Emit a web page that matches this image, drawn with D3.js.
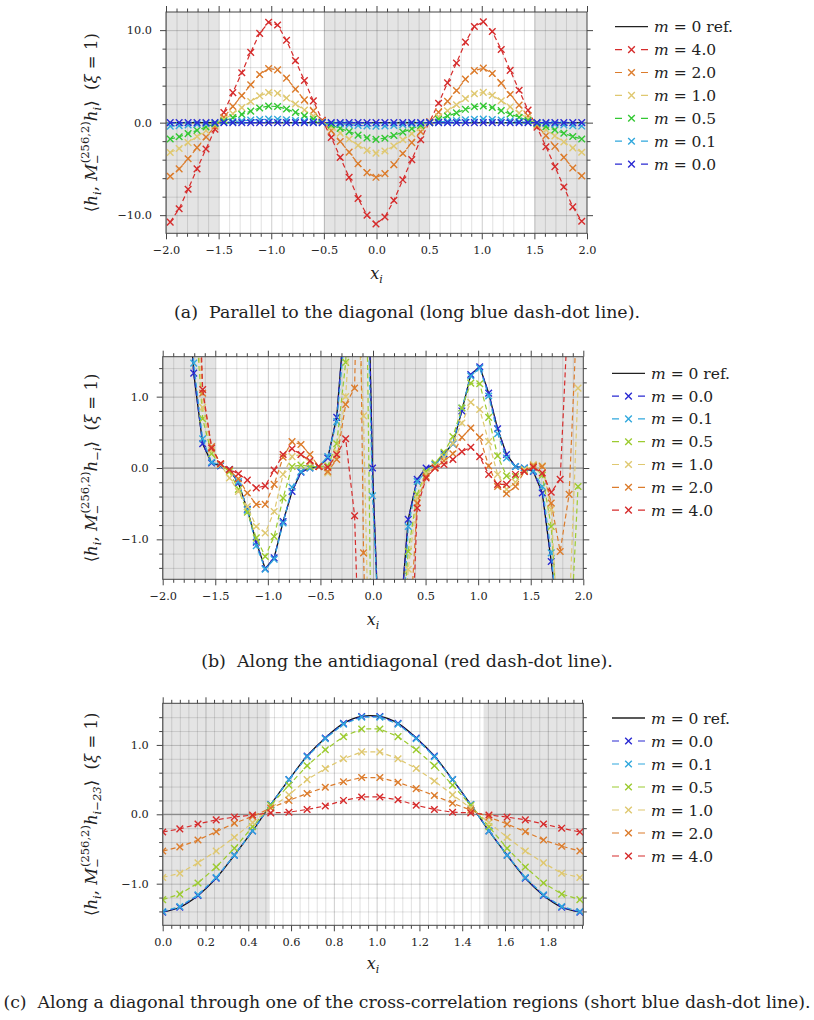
<!DOCTYPE html>
<html><head><meta charset="utf-8">
<script src="https://cdn.jsdelivr.net/npm/d3@7"></script>
<style>
body{margin:0;background:#fff}
svg text{font-family:"DejaVu Serif",serif;fill:#222}
</style>
</head><body>
<svg id="c" width="814" height="1020"></svg>
<script>
// ---------------- DATA ----------------
// shared sample grid (marker positions) for panels (a) and (b)
const xGrid = [-1.96,-1.875,-1.79,-1.705,-1.62,-1.535,-1.45,-1.365,-1.28,-1.195,-1.11,-1.025,-0.94,-0.855,-0.77,-0.685,-0.6,-0.515,-0.43,-0.345,-0.26,-0.175,-0.09,-0.005,0.08,0.165,0.25,0.335,0.42,0.505,0.59,0.675,0.76,0.845,0.93,1.015,1.1,1.185,1.27,1.355,1.44,1.525,1.61,1.695,1.78,1.865,1.95];

// panel (a)
const aRef = [0,0,0,0,0,0,0,0,0,0,0,0,0,0,0,0,0,0,0,0,0,0,0,0,0,0,0,0,0,0,0,0,0,0,0,0,0,0,0,0,0,0,0,0,0,0,0];
const aM40 = [-10.75,-9.3,-7.2,-5.0,-2.85,-0.72,1.1,3.25,5.4,7.6,9.65,10.85,10.55,8.9,6.7,4.55,2.35,0.25,-1.6,-3.75,-5.9,-8.2,-10.0,-10.95,-10.2,-8.4,-6.18,-4.0,-1.84,0.1,2.1,4.3,6.45,8.7,10.4,10.9,9.85,7.9,5.65,3.5,1.35,-0.5,-2.6,-4.75,-6.95,-9.1,-10.65];
const aM20 = [-5.8,-5.0,-3.9,-2.7,-1.55,-0.39,0.59,1.76,2.92,4.1,5.21,5.86,5.7,4.81,3.62,2.46,1.27,0.14,-0.86,-2.03,-3.19,-4.43,-5.4,-5.91,-5.51,-4.54,-3.34,-2.16,-0.99,0.05,1.13,2.32,3.48,4.7,5.62,5.89,5.32,4.27,3.05,1.89,0.73,-0.27,-1.4,-2.57,-3.75,-4.91,-5.75];
const aM10 = [-3.23,-2.79,-2.16,-1.5,-0.86,-0.22,0.33,0.98,1.62,2.28,2.9,3.26,3.17,2.67,2.01,1.37,0.71,0.08,-0.48,-1.13,-1.77,-2.46,-3.0,-3.29,-3.06,-2.52,-1.85,-1.2,-0.55,0.03,0.63,1.29,1.94,2.61,3.12,3.27,2.96,2.37,1.7,1.05,0.41,-0.15,-0.78,-1.43,-2.09,-2.73,-3.2];
const aM05 = [-1.77,-1.53,-1.19,-0.83,-0.47,-0.12,0.18,0.54,0.89,1.25,1.59,1.79,1.74,1.47,1.11,0.75,0.39,0.04,-0.26,-0.62,-0.97,-1.35,-1.65,-1.81,-1.68,-1.39,-1.02,-0.66,-0.3,0.02,0.35,0.71,1.06,1.44,1.72,1.8,1.63,1.3,0.93,0.58,0.22,-0.08,-0.43,-0.78,-1.15,-1.5,-1.76];
const aM01 = [-0.38,-0.33,-0.25,-0.18,-0.1,-0.03,0.04,0.11,0.19,0.27,0.34,0.38,0.37,0.31,0.23,0.16,0.08,0.01,-0.06,-0.13,-0.21,-0.29,-0.35,-0.38,-0.36,-0.29,-0.22,-0.14,-0.06,0.0,0.07,0.15,0.23,0.3,0.36,0.38,0.34,0.28,0.2,0.12,0.05,-0.02,-0.09,-0.17,-0.24,-0.32,-0.37];
const aM00 = [0,0,0,0,0,0,0,0,0,0,0,0,0,0,0,0,0,0,0,0,0,0,0,0,0,0,0,0,0,0,0,0,0,0,0,0,0,0,0,0,0,0,0,0,0,0,0];

// panel (b)  (values far outside the axis range are clipped, they only steer the lines)
const bRef = [9,6,3.2,1.33,0.34,0.07,0.03,-0.02,-0.21,-0.58,-1.04,-1.41,-1.26,-0.75,-0.33,-0.06,0.0,0.02,0.14,0.71,2.3,4.0,5.8,0.0,-3.3,-4.0,-2.3,-0.72,-0.16,0.0,0.05,0.2,0.34,0.8,1.31,1.42,1.05,0.55,0.19,0.02,0.0,-0.05,-0.35,-1.31,-2.3,-4.0,-6.0];
const bM00 = [9,6,3.2,1.33,0.34,0.07,0.03,-0.02,-0.21,-0.58,-1.04,-1.41,-1.26,-0.75,-0.33,-0.06,0.0,0.02,0.14,0.71,2.3,4.0,5.8,0.0,-3.3,-4.0,-2.3,-0.72,-0.16,0.0,0.05,0.2,0.34,0.8,1.31,1.42,1.05,0.55,0.19,0.02,0.0,-0.05,-0.35,-1.31,-2.3,-4.0,-6.0];
const bM01 = [9,5.5,3.0,1.47,0.41,0.08,0.04,-0.02,-0.19,-0.59,-1.09,-1.42,-1.28,-0.77,-0.27,-0.05,0.0,0.02,0.16,0.65,2.0,3.6,4.6,-0.39,-3.0,-4.0,-3.2,-0.82,-0.19,-0.05,0.05,0.17,0.34,0.84,1.29,1.4,1.01,0.48,0.14,0.02,0.0,-0.04,-0.26,-1.19,-2.5,-4.0,-6.0];
const bM05 = [9,6,3.5,2.5,0.69,0.2,0.05,-0.05,-0.3,-0.62,-0.98,-1.24,-0.96,-0.42,0.02,0.04,0.02,0.02,0.03,0.34,1.48,4.0,6.0,-4.0,-6.0,-5.0,-2.8,-1.17,-0.37,-0.05,0.07,0.22,0.44,0.84,1.19,1.18,0.71,0.17,-0.11,-0.12,-0.03,0.02,-0.1,-0.82,-2.6,-2.8,-0.26];
const bM10 = [9,6,4,2.8,0.85,0.25,0.05,-0.14,-0.33,-0.54,-0.82,-0.91,-0.61,-0.09,0.16,0.19,0.08,0.02,-0.07,0.22,1.0,3.0,0.73,-5.0,-5.0,-5.0,-3.0,-1.42,-0.42,-0.08,0.02,0.15,0.35,0.63,0.92,0.82,0.37,-0.09,-0.3,-0.2,-0.02,0.05,0.03,-0.58,-2.9,-2.1,1.12];
const bM20 = [9,7,5,4,1.05,0.3,0.06,-0.03,-0.15,-0.35,-0.51,-0.51,-0.23,0.15,0.37,0.33,0.19,0.02,-0.05,0.12,0.89,1.12,-1.19,-6,-6,-6,-5,-2.7,-0.49,-0.12,0.0,0.1,0.2,0.43,0.56,0.43,0.03,-0.26,-0.36,-0.26,-0.05,0.03,0.02,-0.49,-1.17,-0.37,2.5];
const bM20extraX = [-0.135];
const bM20extraY = [4.0];
const bM40 = [9,8,6,5,1.1,0.28,0.06,-0.02,-0.08,-0.17,-0.28,-0.25,-0.03,0.19,0.27,0.19,0.1,0.02,0.01,0.19,0.41,-0.67,-4.7,-7,-7,-7,-6,-3.9,-0.56,-0.14,0.0,0.05,0.12,0.23,0.29,0.16,-0.09,-0.23,-0.23,-0.09,-0.05,0.01,-0.07,-0.34,-0.16,2.5,5];

// panel (c)
const xC = [0,0.08,0.165,0.25,0.335,0.42,0.505,0.59,0.675,0.76,0.845,0.93,1.015,1.1,1.185,1.27,1.355,1.44,1.525,1.61,1.695,1.78,1.865,1.95];
const cRef = [-1.41,-1.34,-1.17,-0.92,-0.59,-0.24,0.14,0.5,0.84,1.1,1.31,1.41,1.41,1.31,1.1,0.84,0.5,0.14,-0.24,-0.59,-0.92,-1.17,-1.34,-1.41];
const cM00 = [-1.41,-1.34,-1.17,-0.92,-0.59,-0.24,0.14,0.5,0.84,1.1,1.31,1.41,1.41,1.31,1.1,0.84,0.5,0.14,-0.24,-0.59,-0.92,-1.17,-1.34,-1.41];
const cM01 = [-1.4,-1.33,-1.16,-0.91,-0.59,-0.24,0.14,0.5,0.83,1.09,1.3,1.4,1.4,1.3,1.09,0.83,0.5,0.14,-0.24,-0.59,-0.91,-1.16,-1.33,-1.4];
const cM05 = [-1.23,-1.15,-0.99,-0.76,-0.49,-0.18,0.13,0.42,0.7,0.93,1.12,1.23,1.23,1.12,0.93,0.7,0.42,0.13,-0.18,-0.49,-0.76,-0.99,-1.15,-1.23];
const cM10 = [-0.91,-0.85,-0.7,-0.53,-0.33,-0.12,0.09,0.28,0.5,0.66,0.8,0.9,0.9,0.8,0.66,0.48,0.28,0.09,-0.12,-0.33,-0.53,-0.7,-0.85,-0.91];
const cM20 = [-0.53,-0.47,-0.37,-0.25,-0.13,-0.03,0.09,0.2,0.3,0.39,0.47,0.53,0.53,0.46,0.37,0.27,0.16,0.06,-0.04,-0.14,-0.25,-0.37,-0.46,-0.53];
const cM40 = [-0.255,-0.21,-0.14,-0.08,-0.04,-0.01,0.02,0.03,0.07,0.12,0.2,0.25,0.25,0.21,0.13,0.07,0.03,0.02,-0.01,-0.04,-0.08,-0.14,-0.2,-0.255];

// shaded regions
const shadeA = [[-2,-1.5],[-0.5,0.5],[1.5,2]];
const shadeB = [[-2,-1.5],[-0.5,0.5],[1.5,2]];
const shadeC = [[0,0.5],[1.5,1.966]];

// ticks
const xTicksAB = [-2,-1.5,-1,-0.5,0,0.5,1,1.5,2];
const yTicksA = [-10,0,10];
const yTicksBC = [-1,0,1];
const xTicksC = [0,0.2,0.4,0.6,0.8,1.0,1.2,1.4,1.6,1.8];

// legend labels
const legA = ["0 ref.","4.0","2.0","1.0","0.5","0.1","0.0"];
const legBC = ["0 ref.","0.0","0.1","0.5","1.0","2.0","4.0"];

const captions = [
  "(a)  Parallel to the diagonal (long blue dash-dot line).",
  "(b)  Along the antidiagonal (red dash-dot line).",
  "(c)  Along a diagonal through one of the cross-correlation regions (short blue dash-dot line)."
];
const ySubs = ["i", "\u2212i", "i\u221223"];

// ---------------- STYLE ----------------
const col = {m40:"#d62c2c", m20:"#dc7c2c", m10:"#dfc870", m05a:"#33c833", m05:"#9ccb30", m01:"#31a8dd", m00:"#2a2ad2"};
const svg = d3.select("#c");
svg.append("rect").attr("width",814).attr("height",1020).attr("fill","#fff");
const fmt = d3.format(".1f");

function xPath(px, py, s){return `M${px-s},${py-s}L${px+s},${py+s}M${px-s},${py+s}L${px+s},${py-s}`;}

function panel(cfg){
  const x = d3.scaleLinear().domain(cfg.xDomain).range([cfg.left, cfg.right]);
  const y = d3.scaleLinear().domain(cfg.yDomain).range([cfg.bottom, cfg.top]);
  const W = cfg.right-cfg.left, H = cfg.bottom-cfg.top;
  const g = svg.append("g");
  svg.append("clipPath").attr("id","clip"+cfg.id).append("rect")
    .attr("x",cfg.left).attr("y",cfg.top).attr("width",W).attr("height",H);
  const plot = g.append("g").attr("clip-path",`url(#clip${cfg.id})`);
  cfg.shade.forEach(([a,b])=>plot.append("rect").attr("x",x(a)).attr("width",x(b)-x(a))
     .attr("y",cfg.top).attr("height",H).attr("fill","#e4e4e4"));
  // grid
  const gridStyle = (sel, op) => { sel.select(".domain").remove(); sel.selectAll("text").remove();
     sel.selectAll("line").attr("stroke","#000").attr("stroke-opacity",op).attr("stroke-width",1); };
  plot.append("g").attr("transform",`translate(0,${cfg.bottom})`)
    .call(d3.axisBottom(x).tickValues(cfg.xMinor).tickSize(-H).tickFormat("")).call(s=>gridStyle(s,0.12));
  plot.append("g").attr("transform",`translate(${cfg.left},0)`)
    .call(d3.axisLeft(y).tickValues(cfg.yMinor).tickSize(-W).tickFormat("")).call(s=>gridStyle(s,0.12));
  plot.append("g").attr("transform",`translate(0,${cfg.bottom})`)
    .call(d3.axisBottom(x).tickValues(cfg.xTicks).tickSize(-H).tickFormat("")).call(s=>gridStyle(s,0.2));
  plot.append("g").attr("transform",`translate(${cfg.left},0)`)
    .call(d3.axisLeft(y).tickValues(cfg.yTicks).tickSize(-W).tickFormat("")).call(s=>gridStyle(s,0.2));
  // zero line
  plot.append("line").attr("x1",cfg.left).attr("x2",cfg.right).attr("y1",y(0)).attr("y2",y(0))
    .attr("stroke","#8a8a8a").attr("stroke-width",1.2);
  // series
  cfg.series.forEach(s=>{
    let pts = s.xs.map((v,i)=>({x:v,y:s.ys[i],mark:true}));
    if (s.ex) s.ex[0].forEach((v,i)=>pts.push({x:v,y:s.ex[1][i],mark:false}));
    pts.sort((a,b)=>a.x-b.x);
    const line = d3.line().x(d=>x(d.x)).y(d=>y(d.y));
    if (s.smooth) line.curve(d3.curveCatmullRom);
    plot.append("path").attr("d",line(pts)).attr("fill","none").attr("stroke",s.color)
      .attr("stroke-width",s.ref?1.3:1.2).attr("stroke-dasharray",s.ref?null:"5,3.2");
    if (!s.ref) plot.append("g").selectAll("path").data(pts.filter(d=>d.mark)).join("path")
      .attr("d",d=>xPath(x(d.x),y(d.y),3.3)).attr("fill","none").attr("stroke",s.color).attr("stroke-width",1.4);
  });
  // frame
  g.append("rect").attr("x",cfg.left).attr("y",cfg.top).attr("width",W).attr("height",H)
    .attr("fill","none").attr("stroke","#444").attr("stroke-width",1);
  // ticks
  const tk = (sel)=>{ sel.select(".domain").remove(); sel.selectAll("line").attr("stroke","#444");
     sel.selectAll("text").attr("font-family","DejaVu Serif").attr("font-size",11.3).attr("fill","#333"); };
  const ax = (axis, tr) => g.append("g").attr("transform",tr).call(axis).call(tk);
  ax(d3.axisBottom(x).tickValues(cfg.xTicks).tickSize(6).tickPadding(7).tickFormat(cfg.xFmt), `translate(0,${cfg.bottom})`);
  ax(d3.axisBottom(x).tickValues(cfg.xMinor).tickSize(3.5).tickFormat(""), `translate(0,${cfg.bottom})`);
  ax(d3.axisTop(x).tickValues(cfg.xTicks).tickSize(6).tickFormat(""), `translate(0,${cfg.top})`);
  ax(d3.axisTop(x).tickValues(cfg.xMinor).tickSize(3.5).tickFormat(""), `translate(0,${cfg.top})`);
  ax(d3.axisLeft(y).tickValues(cfg.yTicks).tickSize(6).tickPadding(8).tickFormat(fmt), `translate(${cfg.left},0)`);
  ax(d3.axisLeft(y).tickValues(cfg.yMinor).tickSize(3.5).tickFormat(""), `translate(${cfg.left},0)`);
  ax(d3.axisRight(y).tickValues(cfg.yTicks).tickSize(6).tickFormat(""), `translate(${cfg.right},0)`);
  ax(d3.axisRight(y).tickValues(cfg.yMinor).tickSize(3.5).tickFormat(""), `translate(${cfg.right},0)`);
  // x label
  const xl = g.append("text").attr("x",(cfg.left+cfg.right)/2).attr("y",cfg.xLabelY).attr("text-anchor","middle").attr("font-size",16);
  xl.append("tspan").text("x").attr("font-style","italic");
  xl.append("tspan").text("i").attr("font-style","italic").attr("font-size",11).attr("dy",4);
  // y label
  const fs = 16.5;
  const yl = g.append("text").attr("transform",`translate(97,${(cfg.top+cfg.bottom)/2}) rotate(-90)`)
    .attr("text-anchor","middle").attr("font-size",fs);
  const parts = [
    {t:"\u27E8"},{t:"h",i:1},{t:"i",i:1,s:0.7,dy:4},{t:", ",dy:-4},{t:"M",i:1},
    {t:"\u2212",s:0.7,dy:4},{t:"(256,2)",s:0.7,dx:-9,dy:-12},{t:"h",i:1,dy:8},
    {t:cfg.ySub,i:1,s:0.7,dy:4},{t:"\u27E9",dy:-4},{t:"  ("},{t:"\u03BE",i:1},{t:" = 1)"}
  ];
  parts.forEach(p=>{const t=yl.append("tspan").text(p.t);
    if(p.i)t.attr("font-style","italic"); if(p.s)t.attr("font-size",fs*p.s);
    if(p.dy)t.attr("dy",p.dy); if(p.dx)t.attr("dx",p.dx);});
  yl.style("white-space","pre");
  // legend
  cfg.legend.forEach((lab,i)=>{
    const ly = cfg.legY + i*cfg.legDy, lx = cfg.legX;
    const s = cfg.legSeries[i];
    if (s.ref) g.append("line").attr("x1",lx).attr("x2",lx+33).attr("y1",ly).attr("y2",ly).attr("stroke","#222").attr("stroke-width",1.3);
    else {
      g.append("path").attr("d",`M${lx},${ly}H${lx+7}M${lx+26},${ly}H${lx+33}`).attr("stroke",s.color).attr("stroke-width",1.2);
      g.append("path").attr("d",xPath(lx+16.5,ly,3.3)).attr("stroke",s.color).attr("stroke-width",1.4).attr("fill","none");
    }
    const t = g.append("text").attr("x",lx+39).attr("y",ly+5.5).attr("font-size",15.5);
    t.append("tspan").text("m").attr("font-style","italic");
    t.append("tspan").text(" = "+lab);
  });
  // caption
  const cap = g.append("text").attr("x",cfg.capX).attr("y",cfg.capY).attr("text-anchor","middle")
    .attr("font-size",15).style("white-space","pre").text(cfg.caption);
  const natural = cap.node().getComputedTextLength();
  cap.attr("font-size", 15*cfg.capW/natural);
}

const sA = [
  {xs:xGrid,ys:aRef,color:"#222",ref:1},
  {xs:xGrid,ys:aM40,color:col.m40},{xs:xGrid,ys:aM20,color:col.m20},{xs:xGrid,ys:aM10,color:col.m10},
  {xs:xGrid,ys:aM05,color:col.m05a},{xs:xGrid,ys:aM01,color:col.m01},{xs:xGrid,ys:aM00,color:col.m00}];
panel({id:"a", left:166, right:587, top:12, bottom:233.3, xDomain:[-2,2], yDomain:[-11.96,11.96],
  xTicks:xTicksAB, xMinor:d3.range(-19,20).map(v=>v/10).filter(v=>Math.abs(v*2-Math.round(v*2))>1e-6),
  yTicks:yTicksA, yMinor:[-8,-6,-4,-2,2,4,6,8],
  xFmt:fmt, shade:shadeA, series:sA, ySub:ySubs[0], xLabelY:279,
  legend:legA, legSeries:sA, legX:615, legY:26.7, legDy:22.9,
  caption:captions[0], capX:407, capY:318, capW:466});

const sB = [
  {xs:xGrid,ys:bRef,color:"#111",ref:1},
  {xs:xGrid,ys:bM00,color:col.m00},{xs:xGrid,ys:bM01,color:col.m01},{xs:xGrid,ys:bM05,color:col.m05},
  {xs:xGrid,ys:bM10,color:col.m10},{xs:xGrid,ys:bM20,color:col.m20,ex:[bM20extraX,bM20extraY]},{xs:xGrid,ys:bM40,color:col.m40}];
panel({id:"b", left:162.7, right:583.3, top:356.7, bottom:579.3, xDomain:[-2,2], yDomain:[-1.56,1.56],
  xTicks:xTicksAB, xMinor:d3.range(-19,20).map(v=>v/10).filter(v=>Math.abs(v*2-Math.round(v*2))>1e-6),
  yTicks:yTicksBC, yMinor:[-1.4,-1.2,-0.8,-0.6,-0.4,-0.2,0.2,0.4,0.6,0.8,1.2,1.4],
  xFmt:fmt, shade:shadeB, series:sB, ySub:ySubs[1], xLabelY:625,
  legend:legBC, legSeries:sB, legX:612, legY:373.3, legDy:22.8,
  caption:captions[1], capX:407, capY:667, capW:412});

const sC = [
  {xs:xC,ys:cRef,color:"#111",ref:1,smooth:1},
  {xs:xC,ys:cM00,color:col.m00},{xs:xC,ys:cM01,color:col.m01},{xs:xC,ys:cM05,color:col.m05},
  {xs:xC,ys:cM10,color:col.m10},{xs:xC,ys:cM20,color:col.m20},{xs:xC,ys:cM40,color:col.m40}];
panel({id:"c", left:162.7, right:583.3, top:703.3, bottom:925.3, xDomain:[0,1.966], yDomain:[-1.6,1.6],
  xTicks:xTicksC, xMinor:d3.range(1,50).map(v=>v*0.04).filter(v=>Math.abs(v*5-Math.round(v*5))>1e-6),
  yTicks:yTicksBC, yMinor:[-1.4,-1.2,-0.8,-0.6,-0.4,-0.2,0.2,0.4,0.6,0.8,1.2,1.4],
  xFmt:fmt, shade:shadeC, series:sC, ySub:ySubs[2], xLabelY:969,
  legend:legBC, legSeries:sC, legX:612, legY:718, legDy:23,
  caption:captions[2], capX:407, capY:1008, capW:808});
</script>
</body></html>
